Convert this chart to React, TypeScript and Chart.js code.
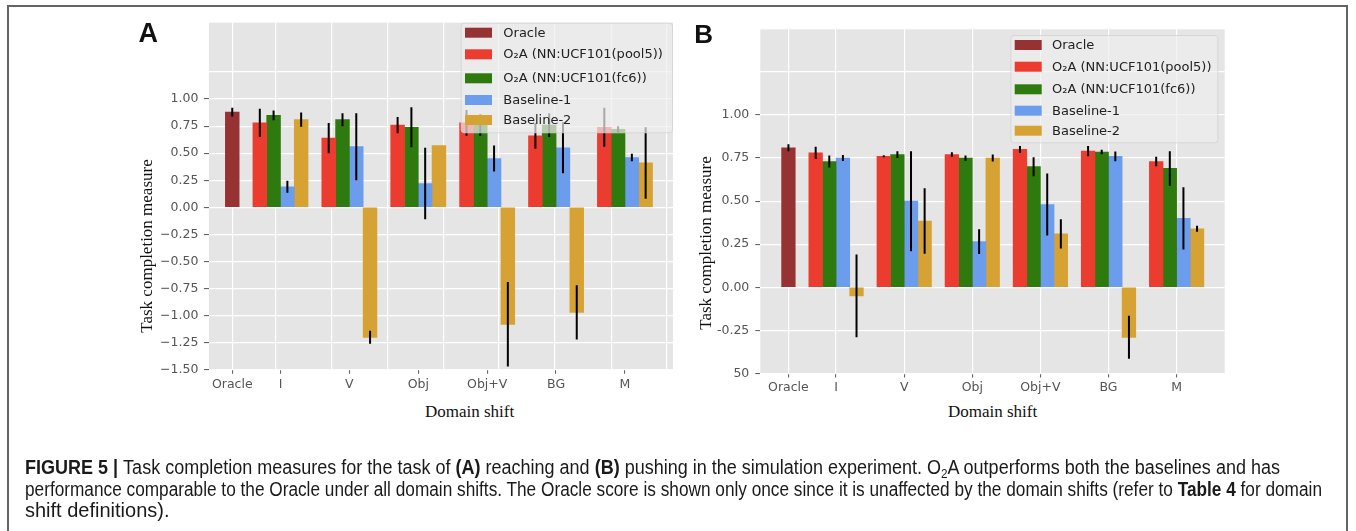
import React, { useEffect, useRef } from 'react';
import { Chart, registerables } from 'chart.js';

Chart.register(...registerables);

// ---------------- data ----------------
const categoryLabels = ['Oracle', 'I', 'V', 'Obj', 'Obj+V', 'BG', 'M'];
const categoryPositions = [-0.7, 0, 1, 2, 3, 4, 5];
const seriesNames = ['Oracle', 'O₂A (NN:UCF101(pool5))', 'O₂A (NN:UCF101(fc6))', 'Baseline-1', 'Baseline-2'];
const seriesColors = ['#963232', '#EC3B2F', '#2F7A0E', '#6B9DEC', '#D6A233'];
const BAR_WIDTH = 0.2;

// Panel A (reaching)
const aOracle = [0.88, null, null, null, null, null, null];
const aPool5 = [null, 0.78, 0.64, 0.76, 0.78, 0.66, 0.74];
const aFc6 = [null, 0.85, 0.81, 0.74, 0.76, 0.76, 0.72];
const aBase1 = [null, 0.19, 0.56, 0.22, 0.45, 0.55, 0.46];
const aBase2 = [null, 0.81, -1.2, 0.57, -1.08, -0.97, 0.41];
const aOracleErr = [0.04, null, null, null, null, null, null];
const aPool5Err = [null, 0.13, 0.14, 0.075, 0.12, 0.12, 0.18];
const aFc6Err = [null, 0.045, 0.06, 0.185, 0.1, 0.11, 0.03];
const aBase1Err = [null, 0.055, 0.31, 0.33, 0.12, 0.235, 0.035];
const aBase2Err = [null, 0.065, 0.06, 0, 0.39, 0.25, 0.33];
const aYTickValues = [-1.5, -1.25, -1, -0.75, -0.5, -0.25, 0, 0.25, 0.5, 0.75, 1, 1.25];
const aYTickLabels = ['−1.50', '−1.25', '−1.00', '−0.75', '−0.50', '−0.25', '0.00', '0.25', '0.50', '0.75', '1.00', ''];
const aGridX = [-0.69, -0.077, 0.743, 1.548, 2.364, 3.17, 3.98, 4.806, 5.61];

// Panel B (pushing)
const bOracle = [0.81, null, null, null, null, null, null];
const bPool5 = [null, 0.78, 0.76, 0.77, 0.8, 0.79, 0.73];
const bFc6 = [null, 0.73, 0.77, 0.75, 0.7, 0.785, 0.69];
const bBase1 = [null, 0.75, 0.5, 0.265, 0.48, 0.76, 0.4];
const bBase2 = [null, -0.05, 0.385, 0.75, 0.31, -0.29, 0.34];
const bOracleErr = [0.02, null, null, null, null, null, null];
const bPool5Err = [null, 0.035, 0.006, 0.013, 0.02, 0.03, 0.027];
const bFc6Err = [null, 0.035, 0.02, 0.015, 0.055, 0.013, 0.1];
const bBase1Err = [null, 0.017, 0.29, 0.072, 0.18, 0.028, 0.18];
const bBase2Err = [null, 0.24, 0.19, 0.02, 0.085, 0.125, 0.017];
const bYTickValues = [-0.5, -0.25, 0, 0.25, 0.5, 0.75, 1, 1.25];
const bYTickLabels = ['50', '-0.25', '0.00', '0.25', '0.50', '0.75', '1.00', ''];

// ---------------- panel ----------------
type Box = { left: number; top: number; width: number; height: number };
type PanelProps = {
  canvasBox: Box;
  plot: { left: number; right: number; top: number; bottom: number };
  xRange: [number, number];
  yRange: [number, number];
  series: (number | null)[][];
  errors: (number | null)[][];
  yTickValues: number[];
  yTickLabels: string[];
  yTickPadding: number;
  gridX?: number[];
  legend: { left: number; top: number; right: number; bottom: number; rows: number[]; swatchX: number; textX: number };
};

const TICK_FONT = { family: 'DejaVu Sans', size: 12.5 };

function Panel(p: PanelProps) {
  const ref = useRef<HTMLCanvasElement | null>(null);
  useEffect(() => {
    const canvas = ref.current;
    if (!canvas) return;
    const cb = p.canvasBox;
    const plot = p.plot;
    const pxPerUnit = (plot.right - plot.left) / (p.xRange[1] - p.xRange[0]);
    const barPx = BAR_WIDTH * pxPerUnit;
    const yAxisWidth = plot.left - cb.left;
    const xAxisHeight = cb.top + cb.height - plot.bottom;

    const datasets = p.series.map((vals, k) => ({
      label: seriesNames[k],
      data: categoryPositions
        .map((x, i) => ({ x, y: vals[i], e: p.errors[k][i] }))
        .filter((d) => d.y !== null),
      backgroundColor: seriesColors[k],
      borderWidth: 0,
      barThickness: barPx,
      skipNull: true,
      xAxisID: 'x',
      yAxisID: 'y',
    }));

    const bgPlugin = {
      id: 'plotBg',
      beforeDraw(chart: any) {
        const { ctx, chartArea: a } = chart;
        ctx.save();
        ctx.fillStyle = '#E5E5E5';
        ctx.fillRect(a.left, a.top, a.right - a.left, a.bottom - a.top);
        ctx.restore();
      },
    };

    const errPlugin = {
      id: 'errBars',
      afterDatasetsDraw(chart: any) {
        const { ctx, chartArea: a } = chart;
        const ys = chart.scales.y;
        ctx.save();
        ctx.beginPath();
        ctx.rect(a.left, a.top, a.right - a.left, a.bottom - a.top);
        ctx.clip();
        ctx.strokeStyle = '#000';
        ctx.lineWidth = 2;
        chart.data.datasets.forEach((ds: any, di: number) => {
          const meta = chart.getDatasetMeta(di);
          meta.data.forEach((el: any, j: number) => {
            const d = ds.data[j];
            if (!d || d.e === null || d.e === undefined || d.e === 0) return;
            ctx.beginPath();
            ctx.moveTo(el.x, ys.getPixelForValue(d.y + d.e));
            ctx.lineTo(el.x, ys.getPixelForValue(d.y - d.e));
            ctx.stroke();
          });
        });
        ctx.restore();
      },
    };

    const legendPlugin = {
      id: 'boxLegend',
      afterDraw(chart: any) {
        const ctx = chart.ctx;
        const L = p.legend;
        const x = L.left - cb.left;
        const y = L.top - cb.top;
        const w = L.right - L.left;
        const h = L.bottom - L.top;
        ctx.save();
        ctx.beginPath();
        if (ctx.roundRect) ctx.roundRect(x + 0.5, y + 0.5, w - 1, h - 1, 3);
        else ctx.rect(x + 0.5, y + 0.5, w - 1, h - 1);
        ctx.fillStyle = 'rgba(238,238,238,0.7)';
        ctx.fill();
        ctx.strokeStyle = 'rgba(210,210,210,0.8)';
        ctx.lineWidth = 1;
        ctx.stroke();
        ctx.font = '13px "DejaVu Sans"';
        ctx.textBaseline = 'middle';
        ctx.textAlign = 'left';
        seriesNames.forEach((name, k) => {
          const cy = y + L.rows[k];
          ctx.fillStyle = seriesColors[k];
          ctx.fillRect(x + L.swatchX, cy - 5, 27, 10);
          ctx.fillStyle = '#222';
          ctx.fillText(name, x + L.textX, cy + 0.5);
        });
        ctx.restore();
      },
    };

    const scales: any = {
      x: {
        type: 'linear',
        position: 'bottom',
        min: p.xRange[0],
        max: p.xRange[1],
        offset: false,
        afterBuildTicks: (s: any) => {
          s.ticks = categoryPositions.map((v) => ({ value: v }));
        },
        afterFit: (s: any) => {
          s.height = xAxisHeight;
        },
        ticks: {
          autoSkip: false,
          maxRotation: 0,
          minRotation: 0,
          padding: 3,
          color: '#555',
          font: TICK_FONT,
          callback: (_v: any, i: number) => categoryLabels[i],
        },
        grid: {
          display: true,
          offset: false,
          drawOnChartArea: !p.gridX,
          color: '#FFFFFF',
          lineWidth: 1.2,
          drawTicks: true,
          tickLength: 4,
          tickColor: '#555',
          tickWidth: 1,
        },
        border: { display: false },
      },
      y: {
        type: 'linear',
        position: 'left',
        min: p.yRange[0],
        max: p.yRange[1],
        afterBuildTicks: (s: any) => {
          s.ticks = p.yTickValues.map((v) => ({ value: v }));
        },
        afterFit: (s: any) => {
          s.width = yAxisWidth;
        },
        ticks: {
          padding: p.yTickPadding,
          color: '#555',
          font: TICK_FONT,
          callback: (_v: any, i: number) => p.yTickLabels[i],
        },
        grid: {
          color: '#FFFFFF',
          lineWidth: 1.2,
          drawTicks: true,
          tickLength: 5,
          tickWidth: 1,
          tickColor: (ctx: any) => (ctx.tick && p.yTickLabels[ctx.index] === '' ? 'rgba(0,0,0,0)' : '#555'),
        },
        border: { display: false },
      },
    };
    if (p.gridX) {
      const gx = p.gridX;
      scales.xg = {
        type: 'linear',
        position: 'bottom',
        min: p.xRange[0],
        max: p.xRange[1],
        offset: false,
        afterBuildTicks: (s: any) => {
          s.ticks = gx.map((v) => ({ value: v }));
        },
        afterFit: (s: any) => {
          s.height = 0;
        },
        ticks: { display: false },
        grid: { color: '#FFFFFF', lineWidth: 1.2, drawTicks: false, offset: false },
        border: { display: false },
      };
    }

    const chart = new Chart(canvas, {
      type: 'bar',
      data: { datasets: datasets as any },
      options: {
        responsive: false,
        animation: false,
        devicePixelRatio: 1,
        layout: {
          padding: {
            left: 0,
            top: plot.top - cb.top,
            right: cb.left + cb.width - plot.right,
            bottom: 0,
          },
        },
        plugins: {
          legend: { display: false },
          tooltip: { enabled: false },
          title: { display: false },
        },
        scales,
      } as any,
      plugins: [bgPlugin, errPlugin, legendPlugin] as any,
    });
    return () => chart.destroy();
  }, []);

  const cb = p.canvasBox;
  return (
    <canvas
      ref={ref}
      width={cb.width}
      height={cb.height}
      style={{ position: 'absolute', left: cb.left, top: cb.top, width: cb.width, height: cb.height }}
    />
  );
}

// ---------------- figure ----------------
const serif = '"Liberation Serif", "Times New Roman", serif';
const sans = '"Liberation Sans", Arial, sans-serif';

function Label(props: { x: number; y: number; text: string; font: string; size: number; weight?: number; rotate?: boolean }) {
  return (
    <div
      style={{
        position: 'absolute',
        left: props.x,
        top: props.y,
        transform: `translate(-50%, -50%)${props.rotate ? ' rotate(-90deg)' : ''}`,
        fontFamily: props.font,
        fontSize: props.size,
        fontWeight: props.weight || 400,
        lineHeight: 1,
        whiteSpace: 'nowrap',
        color: '#111',
      }}
    >
      {props.text}
    </div>
  );
}

export default function App() {
  return (
    <div style={{ position: 'fixed', left: 0, top: 0, width: 1356, height: 531, background: '#fff', overflow: 'hidden' }}>
      <div
        style={{
          position: 'absolute',
          left: 7,
          top: 5,
          width: 1337,
          height: 700,
          border: '2px solid #646464',
          boxSizing: 'content-box',
        }}
      />
      <Panel
        canvasBox={{ left: 130, top: 0, width: 548, height: 400 }}
        plot={{ left: 208.9, right: 673, top: 22.7, bottom: 369.8 }}
        xRange={[-1.039, 5.697]}
        yRange={[-1.5, 1.705]}
        series={[aOracle, aPool5, aFc6, aBase1, aBase2]}
        errors={[aOracleErr, aPool5Err, aFc6Err, aBase1Err, aBase2Err]}
        yTickValues={aYTickValues}
        yTickLabels={aYTickLabels}
        yTickPadding={5.5}
        gridX={aGridX}
        legend={{ left: 460.7, top: 22.7, right: 673, bottom: 133.3, rows: [10, 31.6, 55.6, 77.3, 97.3], swatchX: 4.3, textX: 42.6 }}
      />
      <Panel
        canvasBox={{ left: 690, top: 0, width: 540, height: 400 }}
        plot={{ left: 760.3, right: 1224.7, top: 29.3, bottom: 373.5 }}
        xRange={[-1.113, 5.706]}
        yRange={[-0.5, 1.497]}
        series={[bOracle, bPool5, bFc6, bBase1, bBase2]}
        errors={[bOracleErr, bPool5Err, bFc6Err, bBase1Err, bBase2Err]}
        yTickValues={bYTickValues}
        yTickLabels={bYTickLabels}
        yTickPadding={6}
        legend={{ left: 1010.4, top: 35, right: 1218.3, bottom: 143.3, rows: [10, 31.7, 54.3, 75.7, 95.7], swatchX: 4.3, textX: 41.6 }}
      />
      <Label x={148.3} y={33} text="A" font={sans} size={27} weight={700} />
      <Label x={703.6} y={34} text="B" font={sans} size={26} weight={700} />
      <Label x={146} y={246} text="Task completion measure" font={serif} size={17} rotate />
      <Label x={705} y={242.5} text="Task completion measure" font={serif} size={17} rotate />
      <Label x={469.6} y={411} text="Domain shift" font={serif} size={17} />
      <Label x={992.5} y={411} text="Domain shift" font={serif} size={17} />
      <svg
        width={1356}
        height={531}
        style={{ position: 'absolute', left: 0, top: 0, pointerEvents: 'none' }}
      >
        <g fontFamily={sans} fontSize={20} fill="#1a1a1a">
          <text x={25} y={474} textLength={1255} lengthAdjust="spacingAndGlyphs">
            <tspan fontWeight={700}>{'FIGURE 5 | '}</tspan>
            {'Task completion measures for the task of '}
            <tspan fontWeight={700}>{'(A)'}</tspan>
            {' reaching and '}
            <tspan fontWeight={700}>{'(B)'}</tspan>
            {' pushing in the simulation experiment. O'}
            <tspan fontSize={13} dy={4}>{'2'}</tspan>
            <tspan dy={-4}>{'A outperforms both the baselines and has'}</tspan>
          </text>
          <text x={25} y={496} textLength={1297} lengthAdjust="spacingAndGlyphs">
            {'performance comparable to the Oracle under all domain shifts. The Oracle score is shown only once since it is unaffected by the domain shifts (refer to '}
            <tspan fontWeight={700}>{'Table 4'}</tspan>
            {' for domain'}
          </text>
          <text x={25} y={517}>
            {'shift definitions).'}
          </text>
        </g>
      </svg>
    </div>
  );
}
